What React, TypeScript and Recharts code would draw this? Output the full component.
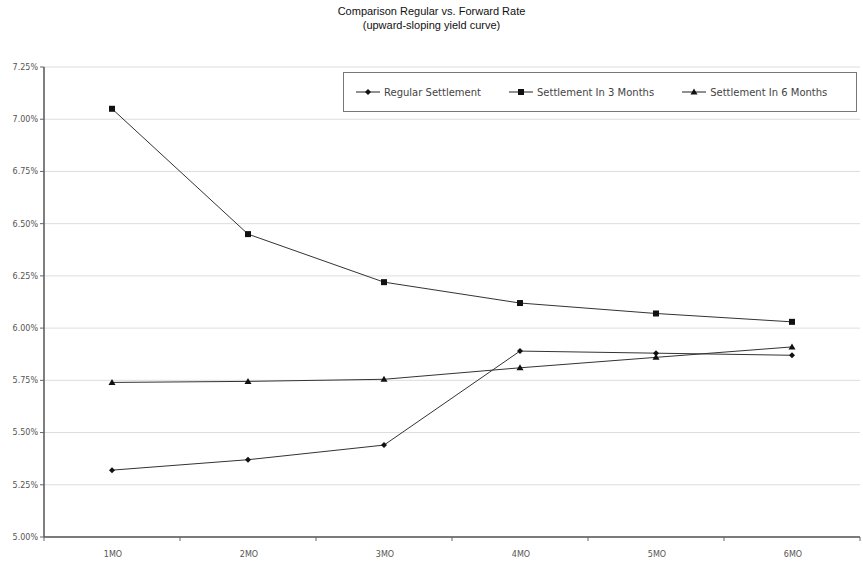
import React from "react";
import { CartesianGrid, Line, LineChart, XAxis, YAxis } from "recharts";

const terms = ["1MO", "2MO", "3MO", "4MO", "5MO", "6MO"];
const regular = [5.32, 5.37, 5.44, 5.89, 5.88, 5.87];
const in3Months = [7.05, 6.45, 6.22, 6.12, 6.07, 6.03];
const in6Months = [5.74, 5.745, 5.755, 5.81, 5.86, 5.91];
const yTicks = [5.0, 5.25, 5.5, 5.75, 6.0, 6.25, 6.5, 6.75, 7.0, 7.25];

const data = terms.map((t, i) => ({
  term: t,
  regular: regular[i],
  m3: in3Months[i],
  m6: in6Months[i]
}));

const font = "'DejaVu Sans', Verdana, sans-serif";

function Diamond({ cx, cy }: any) {
  return <path d={`M${cx},${cy - 3}L${cx + 3},${cy}L${cx},${cy + 3}L${cx - 3},${cy}Z`} fill="#111" />;
}
function Square({ cx, cy }: any) {
  return <rect x={cx - 3} y={cy - 3} width={6} height={6} fill="#111" />;
}
function Triangle({ cx, cy }: any) {
  return <path d={`M${cx},${cy - 3.5}L${cx + 3.5},${cy + 2.5}L${cx - 3.5},${cy + 2.5}Z`} fill="#111" />;
}

const series = [
  { key: "regular", name: "Regular Settlement", Shape: Diamond },
  { key: "m3", name: "Settlement In 3 Months", Shape: Square },
  { key: "m6", name: "Settlement In 6 Months", Shape: Triangle }
];

const band = 136;

function XTick({ x, y, payload, index }: any) {
  return (
    <g>
      <line x1={x - band / 2} x2={x - band / 2} y1={y - 8} y2={y - 4} stroke="#666" />
      {index === terms.length - 1 && (
        <line x1={x + band / 2} x2={x + band / 2} y1={y - 8} y2={y - 4} stroke="#666" />
      )}
      <text x={x + 1} y={y + 12} textAnchor="middle" fontSize={8} fill="#555" fontFamily={font}>
        {payload.value}
      </text>
    </g>
  );
}

function LegendBox() {
  return (
    <div
      style={{
        position: "absolute",
        left: 343,
        top: 72,
        border: "1.5px solid #777",
        height: 40,
        width: 514,
        boxSizing: "border-box",
        display: "flex",
        alignItems: "center",
        gap: 27,
        padding: "0 0 0 11px",
        fontFamily: font,
        fontSize: 10,
        color: "#444",
        background: "#fff"
      }}
    >
      {series.map(({ key, name, Shape }) => (
        <div key={key} style={{ display: "flex", alignItems: "center" }}>
          <svg width={26} height={10}>
            <line x1={1} x2={25} y1={5} y2={5} stroke="#222" strokeWidth={1} />
            <Shape cx={13} cy={5} />
          </svg>
          <span style={{ marginLeft: 3 }}>{name}</span>
        </div>
      ))}
    </div>
  );
}

export default function App() {
  return (
    <div style={{ position: "absolute", left: 0, top: 0, width: 863, height: 569, background: "#fff" }}>
      <div
        style={{
          position: "absolute",
          top: 4,
          width: 863,
          textAlign: "center",
          fontFamily: "'Liberation Sans', Arial, sans-serif",
          fontSize: 11,
          lineHeight: "14px",
          color: "#111"
        }}
      >
        Comparison Regular vs. Forward Rate
        <br />
        (upward-sloping yield curve)
      </div>
      <LineChart width={863} height={569} data={data} margin={{ top: 67, right: 3, left: 0, bottom: 0 }}>
        <CartesianGrid vertical={false} stroke="#ddd" />
        <XAxis
          dataKey="term"
          height={32}
          padding={{ left: band / 2, right: band / 2 }}
          axisLine={{ stroke: "#555", strokeWidth: 1.5 }}
          tickLine={false}
          tick={<XTick />}
          interval={0}
        />
        <YAxis
          width={44}
          domain={[5, 7.25]}
          ticks={yTicks}
          interval={0}
          axisLine={{ stroke: "#555", strokeWidth: 1.5 }}
          tickLine={{ stroke: "#666" }}
          tickSize={4}
          tickFormatter={(v: number) => `${v.toFixed(2)}%`}
          tick={{ fontSize: 8, fill: "#555", fontFamily: font }}
        />
        {series.map(({ key, name, Shape }) => (
          <Line
            key={key}
            dataKey={key}
            name={name}
            stroke="#333"
            strokeWidth={1}
            dot={(p: any) => <Shape key={p.index} cx={p.cx} cy={p.cy} />}
            activeDot={false}
            isAnimationActive={false}
          />
        ))}
      </LineChart>
      <LegendBox />
    </div>
  );
}
